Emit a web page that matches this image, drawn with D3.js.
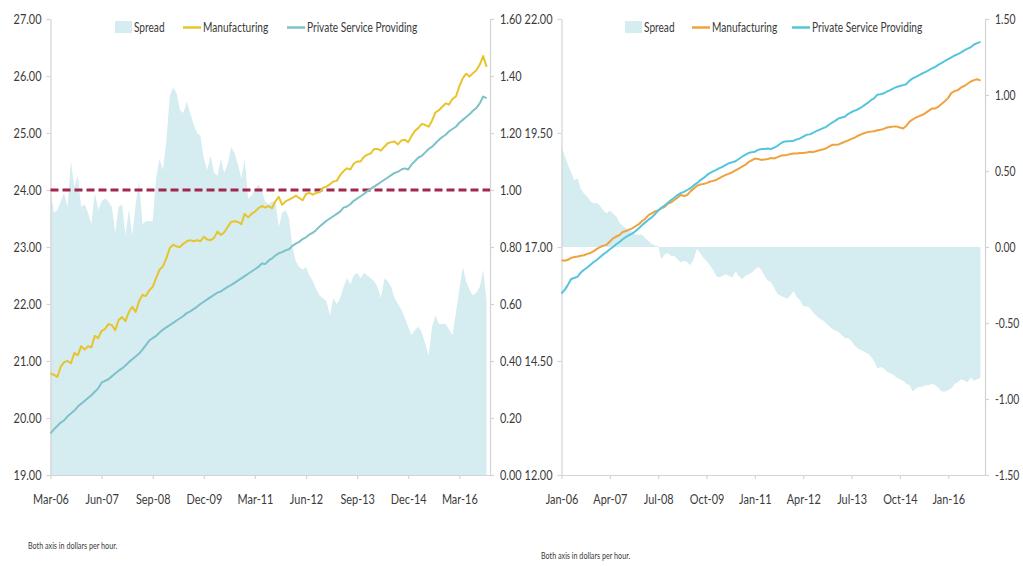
<!DOCTYPE html>
<html>
<head>
<meta charset="utf-8">
<script src="https://cdn.jsdelivr.net/npm/d3@7/dist/d3.min.js"></script>
<style>
  body { margin: 0; background: #fff; }
  svg { display: block; }
  text { font-family: Lato, "Liberation Sans", sans-serif; fill: #3a3a3a; }
</style>
</head>
<body>
<svg id="chart" width="1023" height="566"></svg>
<script>
// ---------- LEFT PANEL DATA (monthly, Mar-06 .. Nov-16) ----------
const leftTickLabels = ["Mar-06","Jun-07","Sep-08","Dec-09","Mar-11","Jun-12","Sep-13","Dec-14","Mar-16"];
const leftSpread = [1.00,0.92,0.93,0.96,0.99,0.94,1.10,1.01,1.05,0.94,
 0.95,0.92,0.88,0.99,0.93,0.96,0.97,0.96,0.94,0.85,
 0.94,0.95,0.84,0.93,0.84,0.95,1.03,0.88,0.89,0.89,
 0.89,1.04,1.11,1.07,1.17,1.33,1.36,1.34,1.28,1.27,
 1.31,1.27,1.23,1.20,1.19,1.11,1.07,1.12,1.06,1.05,
 1.11,1.06,1.09,1.15,1.13,1.09,1.04,1.11,0.97,0.98,
 1.00,1.02,1.00,0.96,0.95,0.96,0.96,0.87,0.92,0.93,
 0.90,0.80,0.75,0.73,0.72,0.73,0.70,0.68,0.65,0.63,
 0.62,0.61,0.56,0.62,0.60,0.62,0.66,0.69,0.67,0.70,
 0.71,0.69,0.71,0.70,0.69,0.68,0.66,0.62,0.69,0.68,
 0.66,0.62,0.60,0.58,0.55,0.52,0.49,0.51,0.52,0.50,
 0.46,0.42,0.52,0.56,0.53,0.53,0.53,0.51,0.49,0.57,
 0.65,0.73,0.68,0.65,0.63,0.64,0.66,0.72,0.61];
const leftManufacturing = [20.78,20.76,20.72,20.90,20.98,21.00,20.96,21.14,21.10,21.26,
 21.20,21.26,21.24,21.44,21.40,21.53,21.56,21.65,21.63,21.54,
 21.72,21.77,21.70,21.86,21.95,21.86,22.05,22.16,22.14,22.24,
 22.30,22.46,22.60,22.66,22.80,22.98,23.04,23.01,23.00,23.06,
 23.10,23.12,23.10,23.12,23.10,23.18,23.13,23.12,23.16,23.27,
 23.21,23.26,23.35,23.44,23.45,23.44,23.40,23.58,23.52,23.58,
 23.62,23.68,23.72,23.69,23.72,23.68,23.80,23.88,23.74,23.80,
 23.83,23.86,23.90,23.86,23.82,23.93,23.95,23.92,23.95,23.96,
 24.04,24.06,24.10,24.15,24.16,24.26,24.33,24.38,24.36,24.46,
 24.50,24.50,24.58,24.62,24.64,24.72,24.72,24.69,24.76,24.82,
 24.84,24.85,24.80,24.87,24.88,24.84,24.95,25.04,25.09,25.16,
 25.14,25.11,25.22,25.36,25.40,25.46,25.52,25.50,25.60,25.64,
 25.82,25.96,26.04,25.99,26.05,26.10,26.20,26.35,26.16];
const leftServices = [19.73,19.80,19.86,19.92,19.96,20.03,20.08,20.13,20.20,20.25,
 20.30,20.35,20.40,20.46,20.52,20.62,20.65,20.68,20.73,20.78,
 20.83,20.87,20.92,20.98,21.03,21.08,21.13,21.20,21.28,21.36,
 21.40,21.44,21.50,21.55,21.59,21.63,21.67,21.71,21.75,21.79,
 21.84,21.87,21.91,21.95,22.00,22.04,22.08,22.12,22.16,22.20,
 22.22,22.26,22.30,22.33,22.37,22.41,22.45,22.49,22.53,22.57,
 22.61,22.65,22.71,22.70,22.76,22.80,22.85,22.89,22.91,22.94,
 22.96,23.02,23.06,23.09,23.14,23.17,23.22,23.25,23.30,23.36,
 23.41,23.46,23.50,23.54,23.58,23.62,23.69,23.71,23.75,23.81,
 23.85,23.89,23.93,23.98,24.02,24.06,24.10,24.14,24.18,24.22,
 24.26,24.30,24.32,24.36,24.38,24.36,24.45,24.51,24.57,24.60,
 24.66,24.72,24.76,24.82,24.88,24.93,24.97,25.03,25.07,25.11,
 25.18,25.23,25.28,25.33,25.39,25.44,25.52,25.64,25.61];
const leftRefLine = 24.00;
const leftYTicks = [19,20,21,22,23,24,25,26,27];
const leftY2Ticks = [0,0.2,0.4,0.6,0.8,1.0,1.2,1.4,1.6];

// ---------- RIGHT PANEL DATA (monthly, Jan-06 .. Nov-16) ----------
const rightTickLabels = ["Jan-06","Apr-07","Jul-08","Oct-09","Jan-11","Apr-12","Jul-13","Oct-14","Jan-16"];
const rightSpread = [0.66,0.60,0.54,0.49,0.44,0.45,0.38,0.35,0.33,0.30,
 0.29,0.29,0.27,0.24,0.22,0.24,0.22,0.20,0.16,0.14,
 0.12,0.11,0.10,0.08,0.08,0.08,0.06,0.04,0.02,0.01,
 0.005,-0.08,-0.05,-0.04,-0.06,-0.06,-0.08,-0.10,-0.09,-0.10,
 -0.12,-0.08,-0.01,-0.04,-0.07,-0.09,-0.12,-0.15,-0.19,-0.20,
 -0.19,-0.18,-0.19,-0.20,-0.16,-0.19,-0.21,-0.19,-0.18,-0.17,
 -0.15,-0.13,-0.15,-0.19,-0.22,-0.23,-0.27,-0.31,-0.32,-0.33,
 -0.34,-0.32,-0.29,-0.33,-0.35,-0.39,-0.39,-0.40,-0.43,-0.45,
 -0.47,-0.48,-0.50,-0.52,-0.54,-0.55,-0.56,-0.58,-0.60,-0.60,
 -0.62,-0.65,-0.67,-0.68,-0.69,-0.70,-0.72,-0.75,-0.80,-0.79,
 -0.80,-0.82,-0.83,-0.84,-0.86,-0.87,-0.88,-0.90,-0.91,-0.95,
 -0.93,-0.92,-0.92,-0.91,-0.91,-0.90,-0.91,-0.93,-0.95,-0.95,
 -0.94,-0.93,-0.90,-0.89,-0.87,-0.88,-0.89,-0.86,-0.88,-0.87,-0.86];
const rightManufacturing = [16.71,16.70,16.72,16.76,16.78,16.79,16.81,16.82,16.85,16.87,
 16.91,16.96,17.00,17.03,17.05,17.12,17.19,17.23,17.26,17.33,
 17.35,17.38,17.41,17.46,17.50,17.57,17.62,17.70,17.74,17.78,
 17.80,17.85,17.88,17.95,17.98,18.03,18.08,18.14,18.12,18.14,
 18.22,18.28,18.34,18.37,18.38,18.40,18.43,18.45,18.47,18.51,
 18.55,18.58,18.61,18.64,18.68,18.72,18.76,18.80,18.86,18.90,
 18.94,18.93,18.91,18.92,18.93,18.95,18.94,18.97,19.00,19.01,
 19.02,19.04,19.05,19.05,19.06,19.06,19.07,19.09,19.08,19.10,
 19.12,19.14,19.16,19.20,19.24,19.24,19.25,19.28,19.31,19.34,
 19.37,19.40,19.44,19.47,19.50,19.52,19.53,19.54,19.56,19.57,
 19.59,19.62,19.63,19.64,19.64,19.62,19.60,19.66,19.75,19.80,
 19.84,19.87,19.90,19.94,19.99,20.04,20.04,20.08,20.14,20.20,
 20.27,20.38,20.42,20.44,20.50,20.53,20.58,20.63,20.66,20.68,20.65];
const rightServices = [15.98,16.06,16.17,16.30,16.32,16.35,16.44,16.50,16.55,16.61,
 16.67,16.72,16.78,16.84,16.89,16.95,17.00,17.06,17.11,17.17,
 17.22,17.26,17.30,17.35,17.41,17.48,17.54,17.60,17.65,17.72,
 17.80,17.86,17.91,17.97,18.03,18.08,18.14,18.18,18.21,18.25,
 18.29,18.35,18.40,18.46,18.51,18.57,18.62,18.66,18.69,18.73,
 18.76,18.80,18.84,18.86,18.88,18.93,18.98,19.02,19.06,19.08,
 19.09,19.13,19.15,19.15,19.16,19.15,19.18,19.22,19.27,19.31,
 19.32,19.32,19.33,19.36,19.38,19.42,19.46,19.47,19.50,19.54,
 19.57,19.60,19.63,19.68,19.73,19.77,19.82,19.84,19.86,19.92,
 19.96,19.99,20.02,20.06,20.11,20.16,20.22,20.26,20.34,20.35,
 20.37,20.41,20.44,20.48,20.51,20.53,20.55,20.57,20.65,20.70,
 20.73,20.77,20.81,20.84,20.88,20.92,20.95,21.00,21.04,21.08,
 21.12,21.16,21.20,21.23,21.27,21.31,21.35,21.38,21.44,21.47,21.50];
const rightYTicks = [12,14.5,17,19.5,22];
const rightY2Ticks = [-1.5,-1.0,-0.5,0,0.5,1.0,1.5];

const legendLabels = ["Spread","Manufacturing","Private Service Providing"];
const footnote = "Both axis in dollars per hour.";
const tickStep = 15;

// ---------- STYLE ----------
const C = {
  area: "#d5ecf0", axis: "#d4d4d4",
  lYellow: "#e8c42c", lTeal: "#7cc2ca", ref: "#a3264c",
  rOrange: "#f0a23f", rCyan: "#55c5de"
};

const svg = d3.select("#chart");
const plotTop = 19, plotBottom = 475;
const fs = 13;
const fmt2 = v => d3.format(".2f")(v).replace("\u2212", "-");

// squeeze a text horizontally (narrow face like the original), keeping its anchor point
function condense(sel, f) {
  sel.each(function () {
    const t = d3.select(this);
    const x0 = +(t.attr("x") || 0);
    t.attr("x", x0 / f).attr("transform", `scale(${f},1)`);
  });
}

function styleAxis(g, f) {
  g.select(".domain").attr("stroke", C.axis).attr("stroke-width", 1.2);
  g.selectAll(".tick line").attr("stroke", C.axis).attr("stroke-width", 1.2);
  g.selectAll(".tick text").attr("font-size", fs).attr("fill", "#3a3a3a")
    .style("font-family", 'Lato, "Liberation Sans", sans-serif')
    .call(condense, f || 0.84);
}

function panel(cfg) {
  const n = cfg.spread.length;
  const x = d3.scaleLinear().domain([0, cfg.xMax]).range([cfg.x0, cfg.x1]);
  const y = d3.scaleLinear().domain(cfg.yDomain).range([plotBottom, plotTop]);
  const y2 = d3.scaleLinear().domain(cfg.y2Domain).range([plotBottom, plotTop]);
  const idx = d3.range(n);
  const g = svg.append("g");

  // spread area
  g.append("path")
    .attr("fill", C.area)
    .attr("d", d3.area().x(i => x(i)).y0(y2(0)).y1(i => y2(cfg.spread[i]))(idx));

  // axes
  const tickIdx = cfg.tickLabels.map((d, k) => k * tickStep);
  g.append("g").attr("transform", `translate(0,${plotBottom})`)
    .call(d3.axisBottom(x).tickValues(tickIdx).tickFormat((d, k) => cfg.tickLabels[k])
      .tickSizeInner(4).tickSizeOuter(0).tickPadding(16))
    .call(styleAxis);
  g.append("g").attr("transform", `translate(${cfg.x0},0)`)
    .call(d3.axisLeft(y).tickValues(cfg.yTicks).tickFormat(fmt2)
      .tickSizeInner(4).tickSizeOuter(0).tickPadding(cfg.leftPad))
    .call(styleAxis);
  g.append("g").attr("transform", `translate(${cfg.x1},0)`)
    .call(d3.axisRight(y2).tickValues(cfg.y2Ticks).tickFormat(fmt2)
      .tickSizeInner(4).tickSizeOuter(0).tickPadding(cfg.rightPad))
    .call(styleAxis, cfg.rightCondense);

  // reference line
  if (cfg.ref != null) {
    g.append("line")
      .attr("x1", cfg.x0).attr("x2", cfg.x1)
      .attr("y1", y(cfg.ref)).attr("y2", y(cfg.ref))
      .attr("stroke", C.ref).attr("stroke-width", 3).attr("stroke-dasharray", "8,4");
  }

  const line = arr => d3.line().x(i => x(i)).y(i => y(arr[i]))(idx);
  cfg.lines.forEach(l => {
    g.append("path").attr("fill", "none").attr("stroke", l.color)
      .attr("stroke-width", 2).attr("stroke-linejoin", "round")
      .attr("d", line(l.data));
  });

  // legend
  const lg = g.append("g");
  const L = cfg.legend;
  lg.append("rect").attr("x", L.sw).attr("y", 21).attr("width", 17).attr("height", 12).attr("fill", C.area);
  lg.append("text").attr("x", L.sw + 19).attr("y", 32).attr("font-size", fs).text(legendLabels[0]);
  lg.append("line").attr("x1", L.m).attr("x2", L.m + 18).attr("y1", 27.5).attr("y2", 27.5)
    .attr("stroke", cfg.legendColors[0]).attr("stroke-width", 2.5);
  lg.append("text").attr("x", L.m + 20).attr("y", 32).attr("font-size", fs).text(legendLabels[1]);
  lg.append("line").attr("x1", L.p).attr("x2", L.p + 18).attr("y1", 27.5).attr("y2", 27.5)
    .attr("stroke", cfg.legendColors[1]).attr("stroke-width", 2.5);
  lg.append("text").attr("x", L.p + 20).attr("y", 32).attr("font-size", fs).text(legendLabels[2]);
  lg.selectAll("text").call(condense, 0.78);

  // footnote
  g.append("text").attr("x", cfg.noteX).attr("y", cfg.noteY).attr("font-size", 9)
    .text(footnote).call(condense, 0.8);
}

panel({
  spread: leftSpread, xMax: 129, x0: 50.5, x1: 490,
  yDomain: [19, 27], y2Domain: [0, 1.6], yTicks: leftYTicks, y2Ticks: leftY2Ticks,
  tickLabels: leftTickLabels, leftPad: 5, rightPad: 6, rightCondense: 0.84, ref: leftRefLine,
  lines: [{data: leftServices, color: C.lTeal}, {data: leftManufacturing, color: C.lYellow}],
  legendColors: [C.lYellow, C.lTeal],
  legend: {sw: 115, m: 183, p: 287}, noteX: 28, noteY: 549
});

panel({
  spread: rightSpread, xMax: 131.4, x0: 561.5, x1: 985,
  yDomain: [12, 22], y2Domain: [-1.5, 1.5], yTicks: rightYTicks, y2Ticks: rightY2Ticks,
  tickLabels: rightTickLabels, leftPad: 5, rightPad: 6, rightCondense: 0.8, ref: null,
  lines: [{data: rightManufacturing, color: C.rOrange}, {data: rightServices, color: C.rCyan}],
  legendColors: [C.rOrange, C.rCyan],
  legend: {sw: 625, m: 692, p: 792}, noteX: 541, noteY: 559
});
</script>
</body>
</html>
